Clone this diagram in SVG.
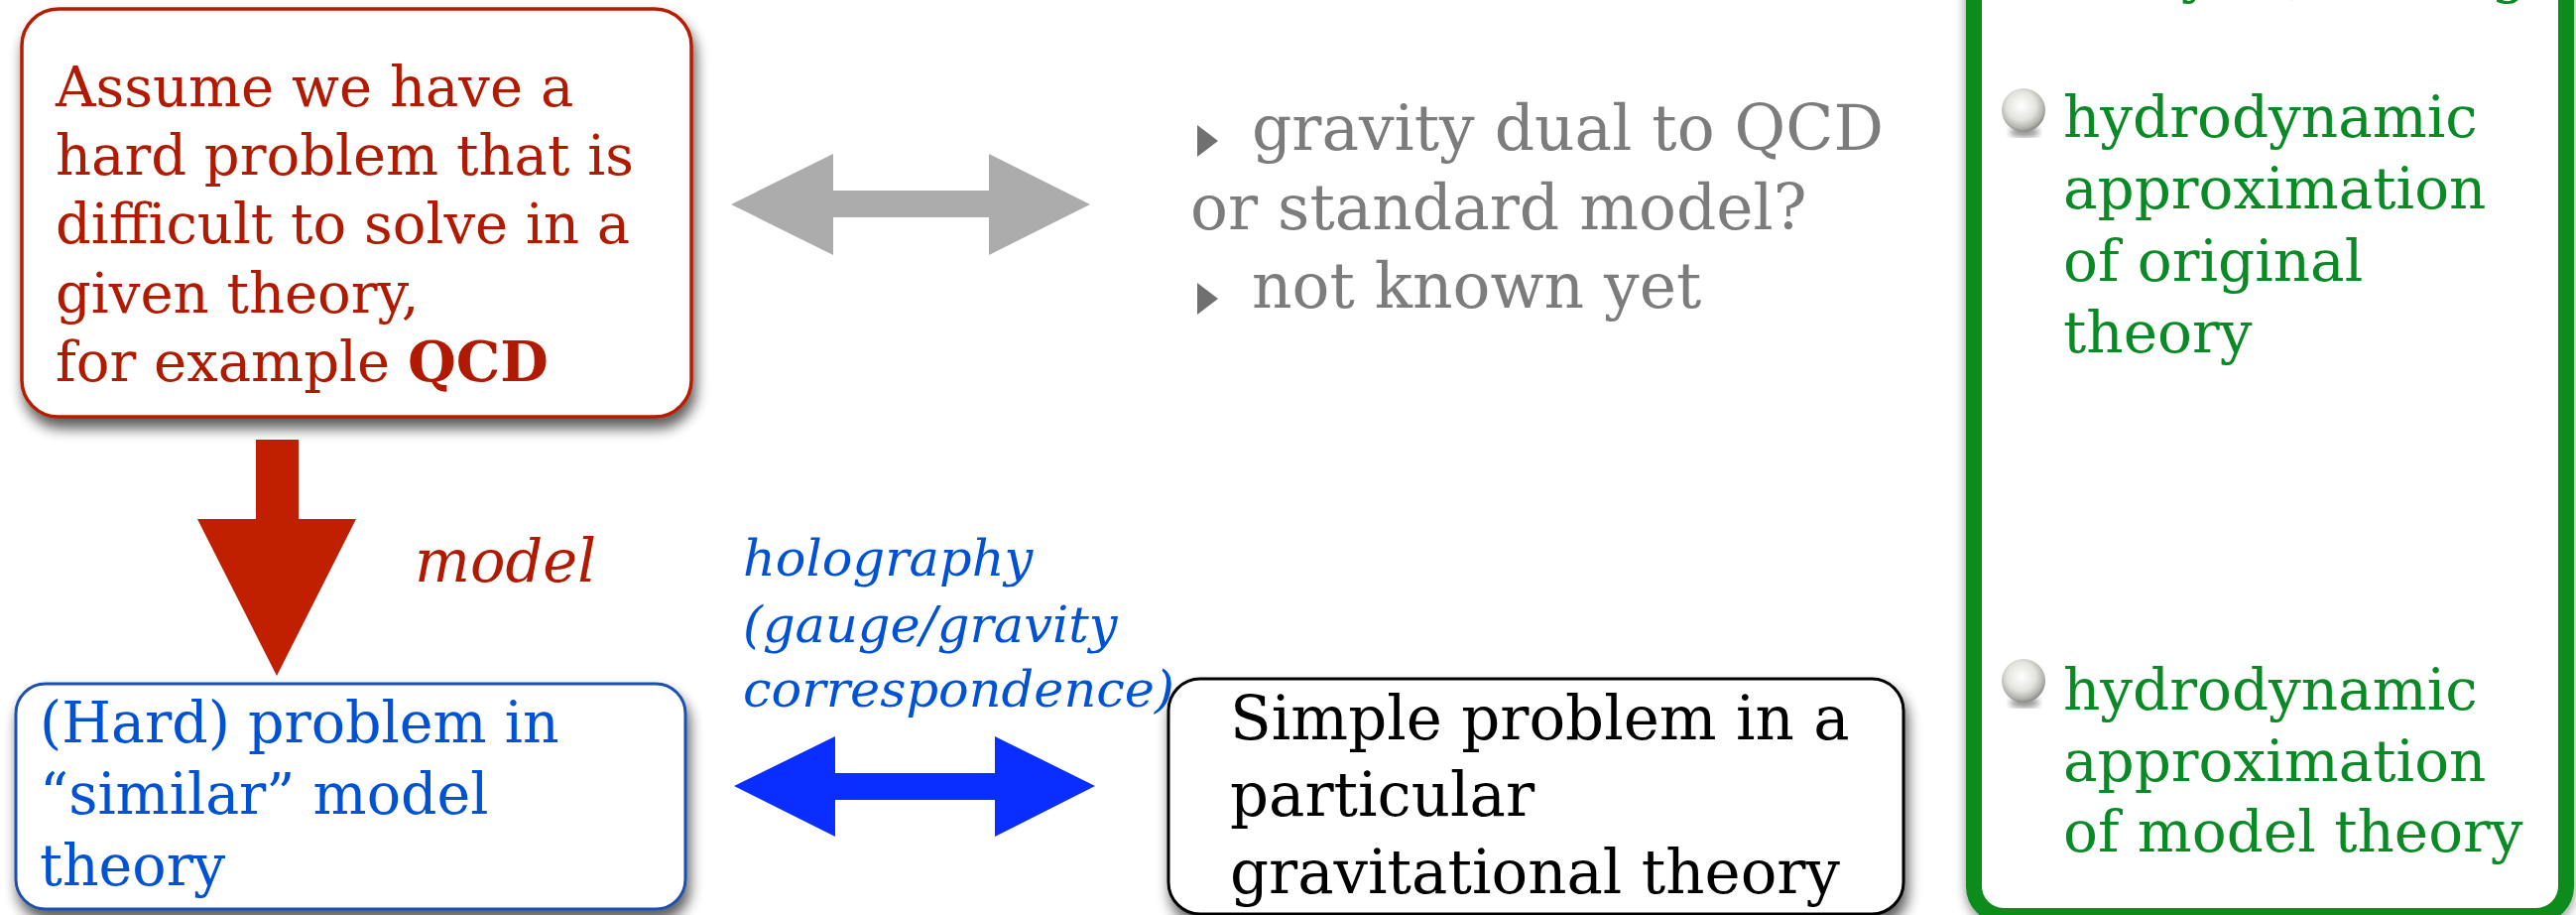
<svg xmlns="http://www.w3.org/2000/svg" width="2597" height="922" viewBox="0 0 2597 922">
<defs>
<style>
.t{font-family:"DejaVu Serif","Liberation Serif",serif}
.ti{font-family:"DejaVu Serif","Liberation Serif",serif;font-style:italic}
.red{fill:#b01a00}
.blue{fill:#0052d4}
.gray{fill:#7c7c7c}
.green{fill:#0a8a24}
.box{fill:#ffffff}
</style>
<filter id="sh" x="-10%" y="-10%" width="125%" height="130%">
<feGaussianBlur in="SourceAlpha" stdDeviation="7"/>
<feOffset dx="3" dy="10" result="b"/>
<feComponentTransfer><feFuncA type="linear" slope="0.65"/></feComponentTransfer>
<feMerge><feMergeNode/><feMergeNode in="SourceGraphic"/></feMerge>
</filter>
<filter id="sh2" x="-10%" y="-10%" width="120%" height="120%">
<feGaussianBlur in="SourceAlpha" stdDeviation="6"/>
<feOffset dx="0" dy="4" result="b"/>
<feComponentTransfer><feFuncA type="linear" slope="0.45"/></feComponentTransfer>
<feMerge><feMergeNode/><feMergeNode in="SourceGraphic"/></feMerge>
</filter>
<radialGradient id="ball" cx="0.45" cy="0.4" r="0.6">
<stop offset="0" stop-color="#ffffff"/>
<stop offset="0.55" stop-color="#e4e4de"/>
<stop offset="0.85" stop-color="#b4b4ae"/>
<stop offset="1" stop-color="#8a8a86"/>
</radialGradient>
<filter id="bl"><feGaussianBlur stdDeviation="3"/></filter>
</defs>
<rect width="2597" height="922" fill="#ffffff"/>

<g id="connectors">
<polygon id="arrow-model" points="258,443 301,443 301,523 359,523 279,681 199,523 258,523" fill="#c01f00"/>
<polygon id="arrow-gray" points="737,206 840,155 840,192 997,192 997,155 1099,206 997,257 997,219 840,219 840,257" fill="#acacac"/>
<polygon id="arrow-blue" points="740,792 842,742 842,779 1003,779 1003,742 1104,792 1003,843 1003,806 842,806 842,843" fill="#0a2eff"/>
<text class="ti red" x="418" y="586" font-size="59">model</text>
<g class="ti blue" font-size="51">
<text x="749" y="580">holography</text>
<text x="749" y="647">(gauge/gravity</text>
<text x="749" y="712">correspondence)</text>
</g>
</g>

<g id="node-qcd">
<rect x="22" y="9" width="675" height="411" rx="37" class="box" stroke="#b81c00" stroke-width="3.5" filter="url(#sh)"/>
<g class="t red" font-size="56">
<text x="56" y="107">Assume we have a</text>
<text x="56" y="176">hard problem that is</text>
<text x="56" y="245">difficult to solve in a</text>
<text x="56" y="315">given theory,</text>
<text x="56" y="384">for example <tspan font-weight="bold">QCD</tspan></text>
</g>
</g>

<g id="node-unknown">
<polygon points="1207,126 1228,142 1207,158" fill="#707070"/>
<polygon points="1207,285 1228,301 1207,317" fill="#707070"/>
<g class="t gray" font-size="63">
<text x="1262" y="151">gravity dual to QCD</text>
<text x="1200" y="231">or standard model?</text>
<text x="1262" y="310">not known yet</text>
</g>
</g>

<g id="node-model">
<rect x="16" y="689" width="675" height="227" rx="30" class="box" stroke="#1d4fae" stroke-width="3" filter="url(#sh)"/>
<g class="t blue" font-size="57">
<text x="40" y="748">(Hard) problem in</text>
<text x="40" y="820">“similar” model</text>
<text x="40" y="892">theory</text>
</g>
</g>

<g id="node-gravity">
<rect x="1178" y="684" width="741" height="237" rx="32" class="box" stroke="#000000" stroke-width="3" filter="url(#sh)"/>
<g class="t" font-size="61" fill="#000000">
<text x="1240" y="745">Simple problem in a</text>
<text x="1240" y="822">particular</text>
<text x="1240" y="900">gravitational theory</text>
</g>
</g>

<g id="node-hydro">
<rect x="1990" y="-40" width="597" height="963" rx="30" class="box" stroke="#078c1c" stroke-width="16" filter="url(#sh2)"/>
<g class="t green" font-size="58">
<text x="2041" y="-9">theory (QFT), e.g.</text>
</g>
<ellipse cx="2041" cy="133" rx="15" ry="5" fill="#333333" opacity="0.55" filter="url(#bl)"/>
<circle cx="2040" cy="111" r="22" fill="url(#ball)"/>
<ellipse cx="2041" cy="708" rx="15" ry="5" fill="#333333" opacity="0.55" filter="url(#bl)"/>
<circle cx="2040" cy="686" r="22" fill="url(#ball)"/>
<g class="t green" font-size="58">
<text x="2080" y="138">hydrodynamic</text>
<text x="2080" y="210">approximation</text>
<text x="2080" y="283">of original</text>
<text x="2080" y="355">theory</text>
<text x="2080" y="715">hydrodynamic</text>
<text x="2080" y="787">approximation</text>
<text x="2080" y="858">of model theory</text>
</g>
</g>
</svg>
